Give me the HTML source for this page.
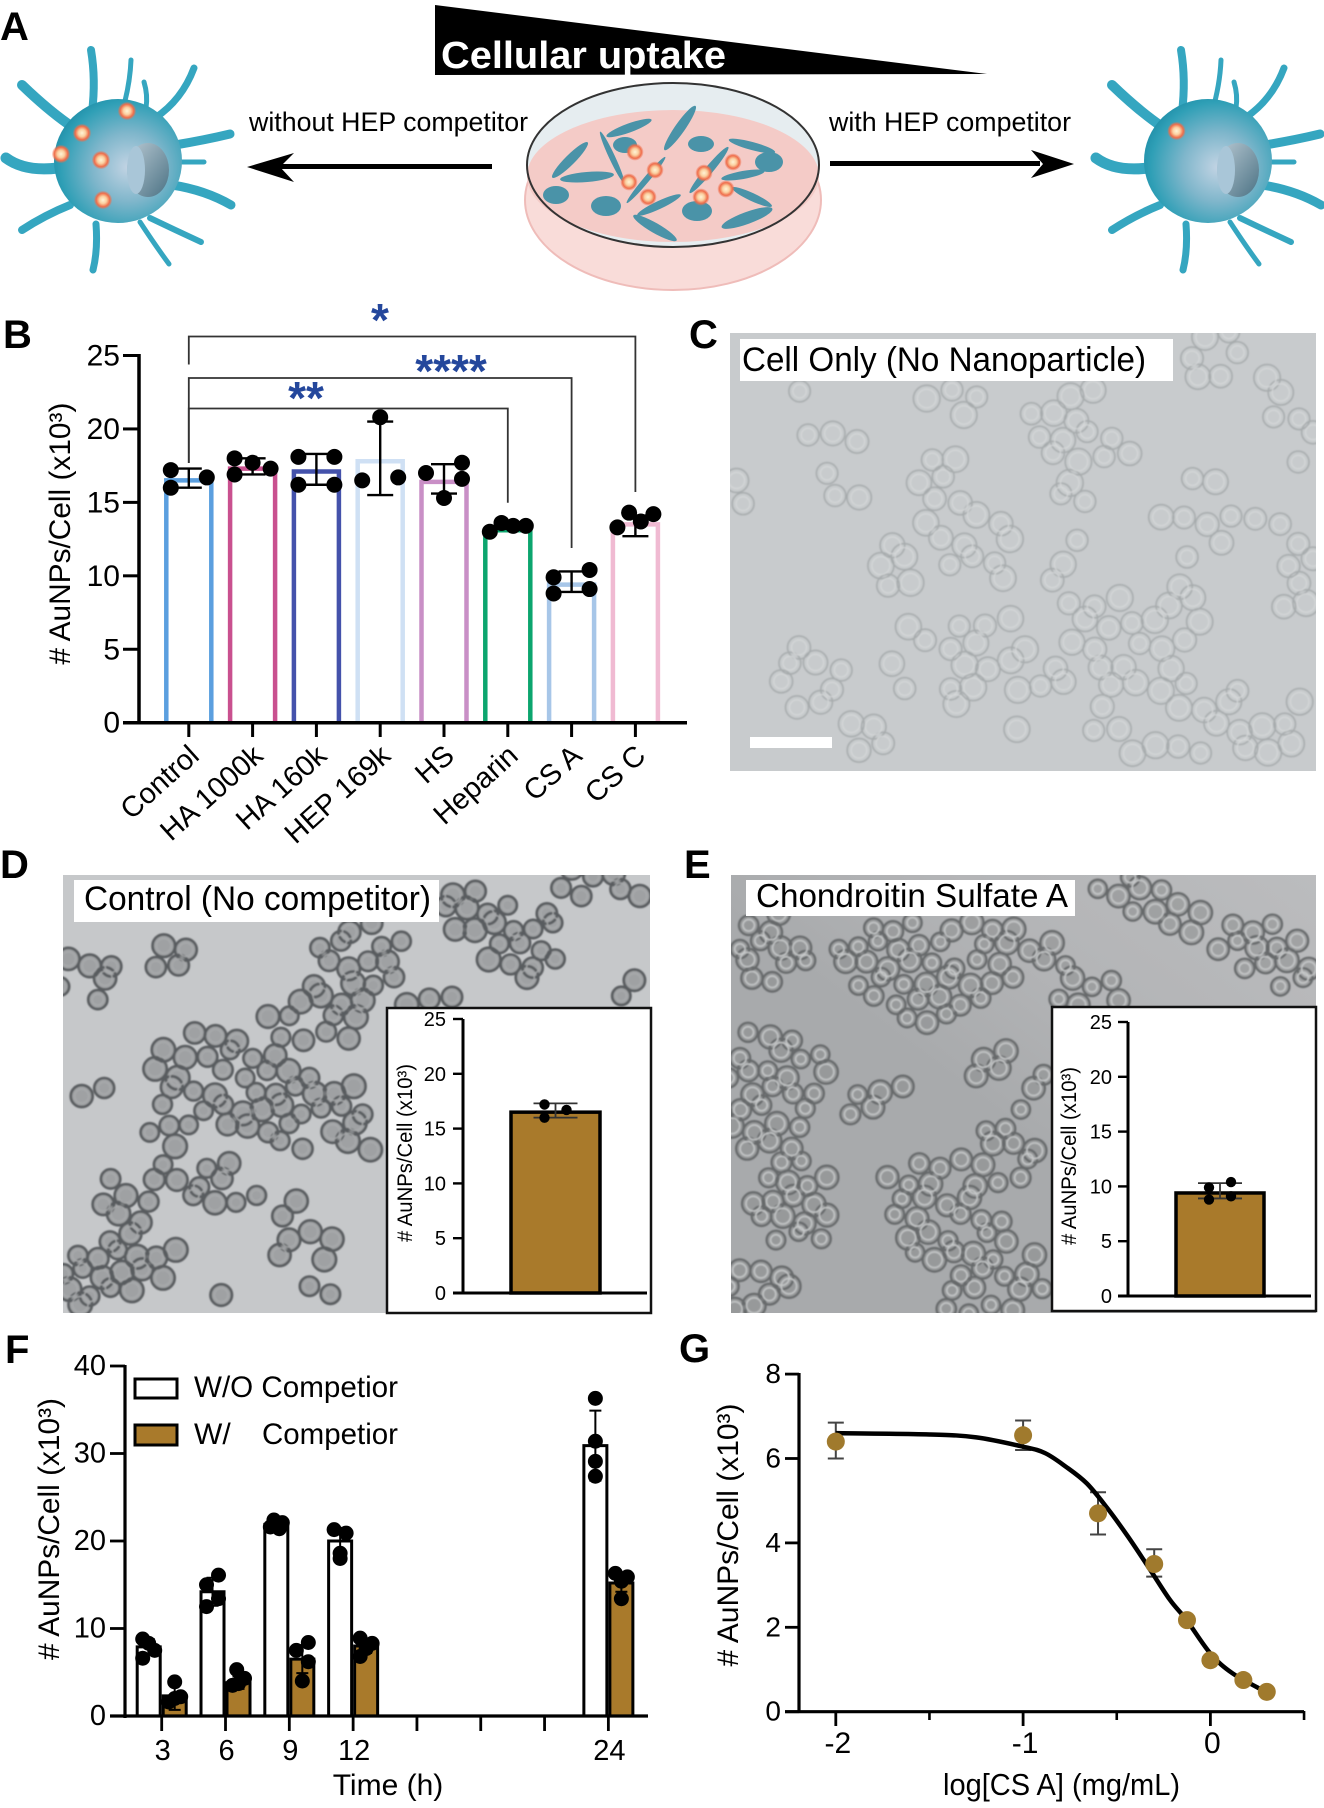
<!DOCTYPE html>
<html lang="en">
<head>
<meta charset="utf-8">
<title>Cellular uptake of AuNPs with competitors</title>
<style>
html,body{margin:0;padding:0;background:#fff;}
svg{display:block;font-family:"Liberation Sans",Arial,sans-serif;}
</style>
</head>
<body>
<svg id="fig" xmlns="http://www.w3.org/2000/svg" width="1324" height="1808" viewBox="0 0 1324 1808">
<defs>
<radialGradient id="cellGrad" cx="0.58" cy="0.55" r="0.62">
<stop offset="0" stop-color="#c3d4e4"/><stop offset="0.45" stop-color="#7fb6cb"/><stop offset="0.85" stop-color="#2f9fb6"/><stop offset="1" stop-color="#1f8ea8"/>
</radialGradient>
<linearGradient id="nucGrad" x1="0" y1="0" x2="1" y2="1">
<stop offset="0" stop-color="#b9c9d3"/><stop offset="1" stop-color="#4b7284"/>
</linearGradient>
<linearGradient id="eBg" x1="1" y1="0" x2="0.45" y2="0.55">
<stop offset="0" stop-color="#bbbcbe"/><stop offset="0.55" stop-color="#b4b5b7"/><stop offset="1" stop-color="#a8aaac"/>
</linearGradient>
<radialGradient id="npGrad"><stop offset="0" stop-color="#fff3d6"/><stop offset="0.4" stop-color="#fbd0a0"/><stop offset="0.75" stop-color="#ef6d4a"/><stop offset="1" stop-color="#ef6d4a" stop-opacity="0.15"/></radialGradient>
<filter id="soft" x="-2%" y="-2%" width="104%" height="104%"><feGaussianBlur stdDeviation="0.8"/></filter>
<clipPath id="clipC"><rect x="730" y="333" width="586" height="438"/></clipPath>
<clipPath id="clipD"><rect x="63" y="875" width="587" height="438"/></clipPath>
<clipPath id="clipE"><rect x="731" y="875" width="585" height="438"/></clipPath>
<g id="spikyCell">
<g fill="none" stroke="#35a6c0" stroke-width="8" stroke-linecap="round">
<path d="M92 112 Q96 80 91 50"/><path d="M122 112 Q130 85 131 60" stroke-width="5"/><path d="M155 118 Q182 100 194 68" stroke-width="7"/><path d="M146 108 Q148 95 144 82" stroke-width="5"/><path d="M74 128 Q50 112 22 85" stroke-width="10"/><path d="M175 145 Q205 140 230 134" stroke-width="9"/><path d="M58 168 Q25 172 6 158" stroke-width="11"/><path d="M172 185 Q205 190 231 205" stroke-width="9"/><path d="M150 218 Q175 230 201 242" stroke-width="6"/><path d="M140 222 Q155 245 169 264" stroke-width="5"/><path d="M96 224 Q98 250 93 270" stroke-width="7"/><path d="M70 205 Q45 215 22 230" stroke-width="8"/><path d="M182 162 L204 162" stroke-width="5"/>
</g>
<ellipse cx="118" cy="161" rx="64" ry="62" fill="url(#cellGrad)"/>
<ellipse cx="148" cy="170" rx="21" ry="27" fill="url(#nucGrad)"/>
<ellipse cx="136" cy="170" rx="9" ry="24" fill="#a9c6d8"/>
</g>
</defs>

<rect x="0" y="0" width="1324" height="1808" fill="#fff"/>

<!-- Panel A -->
<g>
<text x="0" y="40" font-size="40" font-weight="700">A</text>
<polygon points="435,5 987,74 435,75" fill="#000"/>
<text x="441" y="68" font-size="38" font-weight="700" fill="#fff" textLength="285" lengthAdjust="spacingAndGlyphs">Cellular uptake</text>
<text x="249" y="131" font-size="27" textLength="279" lengthAdjust="spacingAndGlyphs">without HEP competitor</text>
<text x="829" y="131" font-size="27" textLength="242" lengthAdjust="spacingAndGlyphs">with HEP competitor</text>
<g><rect x="279" y="164" width="213" height="5"/><path d="M247 167 L294 153 L280 167 L294 182Z"/></g>
<g><rect x="830" y="161" width="210" height="5"/><path d="M1074 164 L1031 150 L1043 164 L1031 178Z"/></g>
<use href="#spikyCell"/>
<use href="#spikyCell" transform="translate(1090 0)"/>
<g id="npLeft"></g>
<g>
<ellipse cx="673" cy="200" rx="148" ry="90" fill="#f9dcd9" stroke="#efbcb9" stroke-width="2"/>
<ellipse cx="673" cy="165" rx="146" ry="82" fill="#e6edf0"/>
<ellipse cx="673" cy="176" rx="146" ry="66" fill="#f4cbc7"/>
<ellipse cx="673" cy="165" rx="146" ry="82" fill="none" stroke="#333" stroke-width="2"/>
<g id="dishCells"></g>
</g>
</g>

<!-- Panel B -->
<g id="panelB">
<text x="3" y="348" font-size="40" font-weight="700">B</text>
</g>

<!-- Panel C -->
<g>
<text x="689" y="348" font-size="40" font-weight="700">C</text>
<rect x="730" y="333" width="586" height="438" fill="#c8cbcd"/>
<g id="cellsC" clip-path="url(#clipC)" filter="url(#soft)"></g>
<rect x="740" y="339" width="433" height="42" fill="#fff"/>
<text x="742" y="371" font-size="34" textLength="404" lengthAdjust="spacingAndGlyphs">Cell Only (No Nanoparticle)</text>
<rect x="750" y="737" width="82" height="11" fill="#fff"/>
</g>

<!-- Panel D -->
<g>
<text x="0" y="878" font-size="40" font-weight="700">D</text>
<rect x="63" y="875" width="587" height="438" fill="#c6c8ca"/>
<g id="cellsD" clip-path="url(#clipD)" filter="url(#soft)"></g>
<rect x="74" y="880" width="365" height="42" fill="#fff"/>
<text x="84" y="910" font-size="34" textLength="347" lengthAdjust="spacingAndGlyphs">Control (No competitor)</text>
<g id="insetD"></g>
</g>

<!-- Panel E -->
<g>
<text x="684" y="878" font-size="40" font-weight="700">E</text>
<rect x="731" y="875" width="585" height="438" fill="url(#eBg)"/>
<g id="cellsE" clip-path="url(#clipE)" filter="url(#soft)"></g>
<rect x="746" y="880" width="329" height="36" fill="#fff"/>
<text x="756" y="907" font-size="33" textLength="312" lengthAdjust="spacingAndGlyphs">Chondroitin Sulfate A</text>
<g id="insetE"></g>
</g>

<!-- Panel F -->
<g id="panelF">
<text x="5" y="1363" font-size="40" font-weight="700">F</text>
<g>
<rect x="135" y="1379" width="42" height="19" fill="#fff" stroke="#000" stroke-width="3"/>
<text x="194" y="1397" font-size="30" textLength="204" lengthAdjust="spacingAndGlyphs">W/O Competior</text>
<rect x="135" y="1425" width="42" height="20" fill="#a97a2b" stroke="#000" stroke-width="3"/>
<text x="194" y="1444" font-size="30">W/</text>
<text x="262" y="1444" font-size="30" textLength="136" lengthAdjust="spacingAndGlyphs">Competior</text>
</g>
</g>

<!-- Panel G -->
<g id="panelG">
<text x="679" y="1362" font-size="40" font-weight="700">G</text>
</g>
</svg>

<script>
// ---------- Panel B data ----------
const bCategories = ['Control','HA 1000k','HA 160k','HEP 169k','HS','Heparin','CS A','CS C'];
const bValues = [16.5,17.3,17.1,17.8,16.4,13.1,9.4,13.5];
const bErrLow = [16.0,16.9,16.2,15.5,15.6,13.2,8.9,12.7];
const bErrHigh = [17.3,18.0,18.3,20.5,17.6,13.5,10.3,14.1];
const bPoints = [[17.2,16.0,16.7],[18.0,16.9,17.7,17.3],[18.1,18.1,16.2,16.2],[20.8,16.5,16.7],[17.0,17.7,16.6,15.3],[13.0,13.6,13.4,13.4],[9.9,8.8,10.4,9.1],[13.3,14.3,13.7,14.2]];
const bPointSlots = [[-1,-1,1],[-1,-1,0,1],[-1,1,-1,1],[0,-1,1],[-1,1,1,0],[-1,-0.35,0.3,1],[-1,-1,1,1],[-1,-0.35,0.3,1]];
const bTicks = [0,5,10,15,20,25];
const bColors = ['#5b9fdf','#c9508f','#4452ab','#cfe0f4','#c98fc6','#0ca56e','#a7c6e8','#f0bad2'];
// ---------- Inset data ----------
const dValue = 16.5;
const dErr = [16.0,17.3];
const dPoints = [17.2,16.0,16.7];
const eValue = 9.4;
const eErr = [8.9,10.3];
const ePoints = [9.9,8.8,10.4,9.1];
const insetTicks = [0,5,10,15,20,25];
// ---------- Panel F data ----------
const fTimes = [3,6,9,12,24];
const fWithout = [7.9,14.2,21.9,20.0,30.9];
const fWith = [2.3,3.8,6.5,8.0,15.2];
const fWithoutErr = [0.9,1.6,0.4,1.5,4.0];
const fWithErr = [1.6,0.7,1.6,0.8,1.0];
const fWithoutPoints = [[8.8,8.3,7.5,6.6],[16.1,15.0,12.5,13.4],[22.4,22.1,21.6,21.4],[21.3,20.9,18.6,18.0],[36.3,31.4,29.1,27.4]];
const fWithPoints = [[3.9,1.6,2.0,2.2],[5.3,4.3,3.5,3.7],[8.4,7.5,6.2,4.0],[8.9,8.3,6.8,7.7],[16.3,15.9,15.4,13.4]];
const fWithoutSlots = [[-1,0,1,-1],[1,-1,-1,1],[-0.4,1,-1,0.5],[-1,1,0,0],[0,0,0,0]];
const fWithSlots = [[0,-1,0,1],[-0.3,1,-1,0],[1,-1,1,0],[-1,1,-1,0],[-1,1,0,0]];
const fYTicks = [0,10,20,30,40];
const fXTickTimes = [3,6,9,12,15,18,21,24];
const fXLabels = ['3','6','9','12','','','','24'];
// ---------- Panel G data ----------
const gX = [-2,-1,-0.6,-0.3,-0.125,0,0.176,0.301];
const gY = [6.4,6.55,4.7,3.5,2.17,1.22,0.75,0.47];
const gErrLow = [6.0,6.2,4.2,3.2,2.1,1.15,0.7,0.42];
const gErrHigh = [6.85,6.9,5.2,3.85,2.25,1.3,0.8,0.52];
const gCurveX = [-2,-1.5,-1.25,-1,-0.884,-0.773,-0.66,-0.55,-0.44,-0.327,-0.216,-0.127,0,0.118,0.296];
const gCurveY = [6.6,6.57,6.5,6.28,6.13,5.81,5.41,4.82,4.15,3.4,2.65,2.17,1.38,0.91,0.47];
const gYTicks = [0,2,4,6,8];
const gXMajor = [-2,-1,0];
const gXMinor = [-1.5,-0.5,0.5];

const NS = 'http://www.w3.org/2000/svg';
function mk(tag, attrs, parent, text){
  const e = document.createElementNS(NS, tag);
  for (const k in attrs) e.setAttribute(k, attrs[k]);
  if (text !== undefined) e.textContent = text;
  parent.appendChild(e);
  return e;
}
const $ = id => document.getElementById(id);

// ---------- Panel A decorations ----------
const npSpots = [[127,111],[82,133],[61,154],[101,160],[103,200],[1176.5,131]];
npSpots.forEach(p => {
  const np = mk('circle',{cx:p[0],cy:p[1],r:9,fill:'url(#npGrad)'},$('npLeft'));
  
  
});
const spindles = [[629,128,24,4.5,-20],[680,128,27,5,-55],[752,146,24,4,15],[701,144,13,8,0],[625,145,12,8,0],[769,162,14,10,0],[570,160,25,5,-45],[612,157,28,3,65],[587,177,27,5,-5],[646,180,30,3,-50],[709,170,30,4,-50],[743,175,22,4,-10],[556,195,13,9,0],[752,197,22,4,25],[606,206,15,10,0],[659,205,24,4,-25],[697,211,15,10,0],[747,218,27,6,-20],[655,228,25,5,30]];
spindles.forEach(s => {
  const sp = mk('ellipse',{cx:s[0],cy:s[1],rx:s[2],ry:s[3],fill:'#4a93a8',transform:`rotate(${s[4]} ${s[0]} ${s[1]})`},$('dishCells'));
  
  
});
const dishNPs = [[635,152],[655,170],[629,182],[648,197],[701,197],[726,189],[704,173],[733,162]];
dishNPs.forEach(p => {
  const np = mk('circle',{cx:p[0],cy:p[1],r:8.5,fill:'url(#npGrad)'},$('dishCells'));
  
  
});

// ---------- Micrograph texture ----------
function ringPath(x,y,r){
  return `M${(x-r).toFixed(1)} ${y.toFixed(1)}a${r} ${r} 0 1 0 ${2*r} 0a${r} ${r} 0 1 0 ${-2*r} 0`;
}
function cellSites(blobs, toX, toY, spacing){
  const seen = new Set(), sites = [];
  const rowH = spacing*0.866;
  blobs.forEach(b => {
    const cx=toX(b[0]), cy=toY(b[1]), rx=Math.abs(toX(b[0]+b[2])-cx), ry=Math.abs(toY(b[1]+b[3])-cy);
    for (let j=Math.floor((cy-ry)/rowH); j<=Math.ceil((cy+ry)/rowH); j++){
      for (let i=Math.floor((cx-rx)/spacing)-1; i<=Math.ceil((cx+rx)/spacing)+1; i++){
        const key=i+'_'+j; if (seen.has(key)) continue;
        const x=i*spacing+(j%2?spacing/2:0), y=j*rowH;
        const dx=(x-cx)/Math.max(rx,1), dy=(y-cy)/Math.max(ry,1);
        if (dx*dx+dy*dy>1.12) continue;
        seen.add(key);
        if (Math.sin(i*3.7+j*5.1)>0.9) continue;
        sites.push([x+5*Math.sin(i*12.9+j*7.3), y+5*Math.sin(i*4.1+j*9.7)]);
      }
    }
  });
  return sites;
}
function drawCells(host, sites, r, fill, stroke, sw, inner, innerW){
  let outer='', inn='';
  sites.forEach(s => {
    const rr = +(r+1.3*Math.sin(s[0]*0.7+s[1]*0.3)).toFixed(1);
    outer+=ringPath(s[0],s[1],rr);
    inn+=ringPath(s[0],s[1],+(rr-4).toFixed(1));
  });
  const a = mk('path',{d:outer,fill:fill,stroke:stroke,'stroke-width':sw},host);
  
  
  const b = mk('path',{d:inn,fill:'none',stroke:inner,'stroke-width':innerW},host);
  
  
}
const blobsC = [[370,360,110,40],[330,270,30,40],[650,280,90,50],[1000,250,40,40],[930,380,80,130],[1070,430,70,50],[950,560,50,30],[1300,130,100,70],[1240,280,30,30],[1480,350,60,100],[1410,200,60,50],[400,540,60,70],[150,520,30,70],[650,500,90,100],[620,690,50,100],[750,690,70,90],[520,770,60,80],[800,820,40,40],[1000,680,30,30],[1280,500,50,60],[1200,610,70,40],[1320,650,60,70],[1450,650,70,60],[1500,800,50,90],[1210,770,60,50],[950,830,70,80],[1100,950,170,120],[1130,1080,100,90],[740,1000,130,70],[600,950,40,60],[510,1070,40,70],[880,1100,90,60],[690,1130,40,60],[320,1110,90,110],[480,1260,60,60],[845,1250,20,30],[1050,1230,60,60],[1300,1180,110,100],[1180,1320,100,40],[1400,1300,130,70],[1500,1230,40,50]];
drawCells($('cellsC'), cellSites(blobsC, z=>680+z/2.435, z=>310+z/3, 24), 12, 'rgba(200,203,205,.2)', '#a6aaac', 1.5, '#d8dadb', 1);
const blobsD = [[620,270,45,120],[550,170,40,70],[700,110,60,50],[420,340,60,120],[110,380,35,70],[210,320,35,40],[380,500,60,90],[500,440,50,30],[745,420,25,50],[260,700,80,150],[300,750,100,100],[415,790,30,120],[225,590,30,30],[110,720,30,50],[200,860,30,60],[230,980,50,70],[155,1030,40,70],[340,860,40,40],[280,1040,40,40],[345,1060,20,50],[155,1100,20,30],[370,1180,40,60],[140,1240,70,90],[100,1340,40,40],[270,1310,15,30],[370,1340,40,40]];
drawCells($('cellsD'), cellSites(blobsD, z=>z/1.184, z=>850+z/3, 21), 10.5, 'rgba(120,122,124,.5)', '#595c5e', 2.6, '#a8aaac', 1.2);
const blobsE = [[1340,110,40,40],[1380,190,50,70],[1490,280,60,70],[1540,380,25,60],[1130,300,150,100],[1090,430,80,90],[910,300,50,120],[1030,340,40,60],[1290,430,50,40],[1430,440,20,20],[910,720,60,200],[950,650,50,60],[1180,650,25,50],[1030,750,50,40],[1190,870,40,130],[1220,720,20,60],[940,1060,50,130],[1120,1090,70,180],[890,1310,50,70],[1180,1270,70,110],[1140,1360,50,30]];
drawCells($('cellsE'), cellSites(blobsE, z=>z/1.184, z=>850+z/3, 21), 10.5, 'rgba(130,132,134,.45)', '#66696b', 2.2, '#c8cacb', 1.4);

// ---------- Shared chart pieces ----------
function axisLine(host,x1,y1,x2,y2,w,name){
  const l = mk('line',{x1,y1,x2,y2,stroke:'#000','stroke-width':w},host);
  
  
  return l;
}
function label(host,x,y,size,txt,anchor,name,extra){
  const t = mk('text',Object.assign({x,y,'font-size':size,'text-anchor':anchor||'start'},extra||{}),host,txt);
  
  
  return t;
}
function errorBar(host,x,yLow,yHigh,cap,w,stroke){
  const g = mk('path',{d:`M${x} ${yLow}V${yHigh}M${x-cap} ${yLow}H${x+cap}M${x-cap} ${yHigh}H${x+cap}`,fill:'none',stroke:stroke||'#000','stroke-width':w},host);
  
  
}
function dot(host,x,y,r,fill){
  const c = mk('circle',{cx:x,cy:y,r,fill:fill||'#000'},host);
  
  
}
function vTitle(host,x,cy,size,len,txt,name){
  const t = mk('text',{x:0,y:0,'font-size':size,'text-anchor':'middle',textLength:len,lengthAdjust:'spacingAndGlyphs',transform:`translate(${x} ${cy}) rotate(-90)`},host,txt);
  
  
}

// ---------- Panel B ----------
(function(){
  const host = $('panelB');
  const y = v => 722.7 - v*(722.7-355.5)/25;
  const x = i => 188.8 + i*63.8;
  const barW = 45;
  bCategories.forEach((c,i) => {
    const bar = mk('path',{d:`M${x(i)-barW/2} ${y(0)}V${y(bValues[i])}H${x(i)+barW/2}V${y(0)}`,fill:'none',stroke:bColors[i],'stroke-width':4.5},host);
    
    
  });
  bCategories.forEach((c,i) => {
    errorBar(host,x(i),y(bErrLow[i]),y(bErrHigh[i]),13,2.4);
    bPoints[i].forEach((v,k) => dot(host,x(i)+bPointSlots[i][k]*18,y(v),8));
  });
  axisLine(host,139,354,139,724,3.5,'y-axis');
  axisLine(host,123,722.7,687,722.7,3.5,'x-axis');
  bTicks.forEach(t => {
    axisLine(host,123,y(t),139,y(t),3,'y-tick');
    label(host,120,y(t)+10,30,String(t),'end','y-tick-label');
  });
  bCategories.forEach((c,i) => {
    axisLine(host,x(i),722,x(i),737,3,'x-tick');
    label(host,0,0,29,c,'end','x-tick-label',{transform:`translate(${x(i)+12} 758) rotate(-42)`});
  });
  vTitle(host,70,533.6,30,262,'# AuNPs/Cell (x10³)','y-axis-title');
  const brackets = [[0,7,336.5,364.5,492],[0,6,378,463,548],[0,5,408.5,463,502.7]];
  brackets.forEach(b => {
    const p = mk('path',{d:`M${x(b[0])} ${b[3]}V${b[2]}H${x(b[1])}V${b[4]}`,fill:'none',stroke:'#333','stroke-width':1.8},host);
    
    
  });
  const stars = [[380,336,'*'],[451,387,'****'],[306,414,'**']];
  stars.forEach(s => {
    label(host,s[0],s[1],46,s[2],'middle','significance-stars',{fill:'#24479c','font-weight':'700'});
  });
})();

// ---------- Insets ----------
function inset(hostId,box,axisX,yTop,y0,barL,barR,axisEnd,val,err,pts,titleX,tickEnd){
  const host = $(hostId);
  const panel = mk('rect',{x:box[0],y:box[1],width:box[2],height:box[3],fill:'#fff',stroke:'#111','stroke-width':2.5},host);
  
  
  const y = v => y0 - v*(y0-yTop)/25;
  const cx = (barL+barR)/2;
  const bar = mk('rect',{x:barL,y:y(val),width:barR-barL,height:y0-y(val),fill:'#a97a2b',stroke:'#000','stroke-width':3.5},host);
  
  
  errorBar(host,cx,y(err[0]),y(err[1]),22,1.8,'#333');
  pts.forEach((v,k) => dot(host,cx+[-11,-11,11,11][k],y(v),5.2));
  axisLine(host,axisX,yTop,axisX,y0+1,3,'inset-y-axis');
  axisLine(host,axisX-10,y0,axisEnd,y0,3,'inset-x-axis');
  insetTicks.forEach(t => {
    axisLine(host,axisX-10,y(t),axisX,y(t),2.4,'inset-y-tick');
    label(host,tickEnd,y(t)+7,20,String(t),'end','inset-y-tick-label');
  });
  vTitle(host,titleX,(y0+yTop)/2-3,21,178,'# AuNPs/Cell (x10³)','inset-y-title');
}
inset('insetD',[387,1008,264,305],463,1019,1293,511,600,647,dValue,dErr,dPoints,412,446);
inset('insetE',[1052,1007,264,304],1128,1022,1296,1176,1264,1311,eValue,eErr,ePoints,1076,1112);

// ---------- Panel F ----------
(function(){
  const host = $('panelF');
  const y = v => 1716 - v*8.75;
  const x = t => 161.7 + (t-3)*21.27;
  const barW = 23;
  fTimes.forEach((t,i) => {
    const a = mk('rect',{x:x(t)-24.5,y:y(fWithout[i]),width:barW,height:1716-y(fWithout[i]),fill:'#fff',stroke:'#000','stroke-width':3},host);
    
    
    const b = mk('rect',{x:x(t)+1.5,y:y(fWith[i]),width:barW,height:1716-y(fWith[i]),fill:'#a97a2b',stroke:'#000','stroke-width':3},host);
    
    
  });
  fTimes.forEach((t,i) => {
    const cw = x(t)-13, cb = x(t)+13;
    errorBar(host,cw,y(fWithout[i]-fWithoutErr[i]),y(fWithout[i]+fWithoutErr[i]),6,2);
    errorBar(host,cb,y(fWith[i]-fWithErr[i]),y(fWith[i]+fWithErr[i]),6,2);
    fWithoutPoints[i].forEach((v,k) => dot(host,cw+fWithoutSlots[i][k]*6,y(v),7.5));
    fWithPoints[i].forEach((v,k) => dot(host,cb+fWithSlots[i][k]*6,y(v),7.5));
  });
  axisLine(host,125,1365,125,1718,3.2,'y-axis');
  axisLine(host,110,1716,648,1716,3.2,'x-axis');
  fYTicks.forEach(t => {
    axisLine(host,110,y(t),125,y(t),2.8,'y-tick');
    label(host,106,y(t)+9,29,String(t),'end','y-tick-label');
  });
  fXTickTimes.forEach((t,i) => {
    axisLine(host,x(t),1716,x(t),1731,2.8,'x-tick');
    if (fXLabels[i]) label(host,x(t)+1,1760,29,fXLabels[i],'middle','x-tick-label');
  });
  label(host,388,1795,30,'Time (h)','middle','x-axis-title');
  vTitle(host,59,1529,30,262,'# AuNPs/Cell (x10³)','y-axis-title');
})();

// ---------- Panel G ----------
(function(){
  const host = $('panelG');
  const y = v => 1711.7 - v*42.2;
  const x = v => 1210.4 + v*187.3;
  gX.forEach((v,i) => errorBar(host,x(v),y(gErrLow[i]),y(gErrHigh[i]),8,2,'#444'));
  const pts = gCurveX.map((v,i) => [x(v),y(gCurveY[i])]);
  let d = `M${pts[0][0]} ${pts[0][1]}`;
  for (let i=0;i<pts.length-1;i++){
    const p0=pts[Math.max(i-1,0)],p1=pts[i],p2=pts[i+1],p3=pts[Math.min(i+2,pts.length-1)];
    d += `C${p1[0]+(p2[0]-p0[0])/6} ${p1[1]+(p2[1]-p0[1])/6} ${p2[0]-(p3[0]-p1[0])/6} ${p2[1]-(p3[1]-p1[1])/6} ${p2[0]} ${p2[1]}`;
  }
  const curve = mk('path',{d,fill:'none',stroke:'#000','stroke-width':4.5},host);
  
  
  gX.forEach((v,i) => dot(host,x(v),y(gY[i]),9,'#a07a2d'));
  axisLine(host,799,1373,799,1713,3.2,'y-axis');
  axisLine(host,785,1711.7,1304,1711.7,3.2,'x-axis');
  gYTicks.forEach(t => {
    axisLine(host,785,y(t),799,y(t),2.8,'y-tick');
    label(host,781,y(t)+9,28,String(t),'end','y-tick-label');
  });
  gXMajor.forEach(t => {
    axisLine(host,x(t),1711,x(t),1726,2.8,'x-tick');
    label(host,x(t)+2,1753,30,String(t),'middle','x-tick-label');
  });
  gXMinor.forEach(t => axisLine(host,x(t),1711,x(t),1720,2.6,'x-minor-tick'));
  label(host,943,1795,31,'log[CS A] (mg/mL)','start','x-axis-title',{textLength:237,lengthAdjust:'spacingAndGlyphs'});
  vTitle(host,738,1535,30,263,'# AuNPs/Cell (x10³)','y-axis-title');
})();
</script>
</body>
</html>
